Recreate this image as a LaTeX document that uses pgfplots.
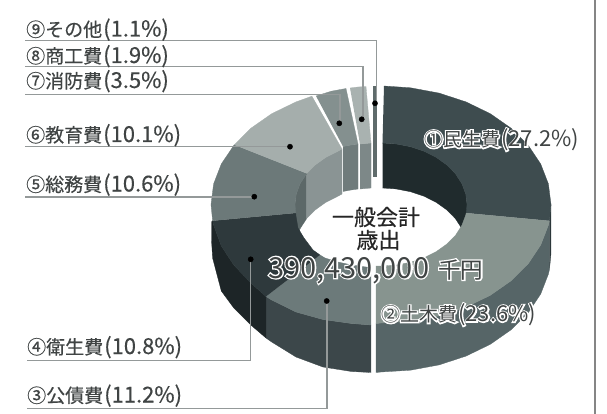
\documentclass[border=0pt]{standalone}
\usepackage{fontspec}
\setmainfont{Noto Sans CJK JP}
\newfontfamily\heavyfont{Noto Sans CJK JP}[FakeBold=0.35]
\usepackage{pgfplots}
\pgfplotsset{compat=1.18}

\definecolor{topA}{HTML}{3E4C4F}\definecolor{wallA}{HTML}{202B2D}\definecolor{sideA}{HTML}{2B373A}
\definecolor{topB}{HTML}{87948F}\definecolor{sideB}{HTML}{566567}
\definecolor{topC}{HTML}{6C7A7A}\definecolor{sideC}{HTML}{3C474A}
\definecolor{topD}{HTML}{2E393C}\definecolor{sideD}{HTML}{1D2527}
\definecolor{topE}{HTML}{6C7979}\definecolor{wallE}{HTML}{5C6868}
\definecolor{topF}{HTML}{A5AEAC}\definecolor{wallF}{HTML}{8A9494}
\definecolor{topG}{HTML}{84908F}\definecolor{wallG}{HTML}{6F7B7B}
\definecolor{topH}{HTML}{A9B2B0}\definecolor{wallH}{HTML}{7D8888}
\definecolor{topI}{HTML}{5F6B6B}
\definecolor{leader}{HTML}{949999}
\definecolor{ink}{HTML}{404444}

% one polygon of the ring, outlined in its own colour so that no seam shows
\newcommand{\face}[2]{\addplot[fill=#1,draw=#1,line width=0.3pt] coordinates {#2};}
% white outline behind a text: its glyphs stroked, not filled
\newcommand{\strokewhite}[1]{\special{pdf:code q 1 Tr 2.6 w 1 1 1 RG}#1\special{pdf:code Q}}
% caption body: item name, share
\newcommand{\labeltext}[2]{\fontsize{19}{20}\selectfont #1\hspace{1pt}\fontsize{22}{24}\selectfont (#2\%)}
% caption on white: x, baseline, item name, share
\newcommand{\itemlabel}[4]{\node[anchor=base west,inner sep=0pt,text=ink] at (axis cs:#1,#2)
  {\heavyfont\labeltext{#3}{#4}};}
% caption over the ring, on a white outline
\newcommand{\halolabel}[4]{%
  \node[anchor=base west,inner sep=0pt] at (axis cs:#1,#2) {\strokewhite{\labeltext{#3}{#4}}};
  \node[anchor=base west,inner sep=0pt,text=ink] at (axis cs:#1,#2) {\labeltext{#3}{#4}};}

\begin{document}
\begin{tikzpicture}
\path[use as bounding box] (0,0) rectangle (607pt,414pt);
\begin{axis}[
  at={(0,0)},anchor=south west,
  width=607pt,height=414pt,scale only axis,
  xmin=0,xmax=607,ymin=0,ymax=414,y dir=reverse,
  axis lines=none,clip=false]

% far inner wall of the hole
\face{wallA}{(382.5,143)(395.9,143.9)(410.4,146.7)(424,151.2)(436.3,157.4)(446.9,165)(455.5,173.8)(461.8,183.5)(465.7,193.8)(467,204.5)(467,249.5)(465.7,238.8)(461.8,228.5)(455.5,218.8)(446.9,210)(436.3,202.4)(424,196.2)(410.4,191.7)(395.9,188.9)(382.5,188)}
\face{wallE}{(295,204.5)(296.3,193.8)(300.2,183.5)(306.7,173.5)(306.7,218.5)(300.2,228.5)(296.3,238.8)(295,249.5)}
\face{wallF}{(306.7,173.5)(315.1,165)(325.7,157.4)(338,151.2)(342,149)(342,194)(338,196.2)(325.7,202.4)(315.1,210)(306.7,218.5)}
\face{wallG}{(343,146.5)(351,145)(358,144)(358,189)(351,190)(343,191.5)}
\face{wallH}{(360,144)(371,143)(371,188)(360,189)}
\face{topI}{(373,143)(376.5,143)(376.5,176)(373,176)}

% outer wall of the near half
\face{sideA}{(551,204.5)(549.4,220.8)(549.4,269.8)(551,253.5)}
\face{sideB}{(549.4,220.8)(548.4,225.1)(540.7,245)(528.2,263.8)(511.2,280.7)(490.3,295.3)(466,307.1)(439.1,315.9)(410.5,321.2)(381,323)(376,323.5)(376,372.5)(381,372)(410.5,370.2)(439.1,364.9)(466,356.1)(490.3,344.3)(511.2,329.7)(528.2,312.8)(540.7,294)(548.4,274.1)(549.4,269.8)}
\face{sideC}{(371,325)(351.5,323.5)(322.9,319.5)(296,312)(271.7,300)(266,296.5)(266,338)(271.7,342)(296,357)(322.9,367)(351.5,371.5)(371,372.5)}
\face{sideD}{(266,296.5)(250.8,283)(233.8,265)(221.3,246)(213.6,225.1)(212.6,220.8)(211.5,222)(211.5,240)(212.6,258)(221.3,291)(233.8,308)(250.8,325)(266,338)}

% top of the ring
\face{topA}{(384,86)(410.5,87.8)(439.1,93.1)(466,101.9)(490.3,113.7)(511.2,128.3)(528.2,145.3)(540.7,164)(548.4,183.9)(551,204.5)(549.4,220.8)(466.2,213)(467,204.5)(465.7,193.8)(461.8,183.5)(455.5,173.8)(446.9,165)(436.3,157.4)(424,151.2)(410.4,146.7)(395.9,143.9)(382.5,143)}
\face{topB}{(549.4,220.8)(548.4,225.1)(540.7,245)(528.2,263.8)(511.2,280.7)(490.3,295.3)(466,307.1)(439.1,315.9)(410.5,321.2)(381,323)(376,323.5)(376,266)(381,266)(395.9,265.1)(410.4,262.3)(424,257.8)(436.3,251.6)(446.9,244)(455.5,235.3)(461.8,225.5)(465.7,215.2)(466.2,213)}
\face{topC}{(371,325)(351.5,323.5)(322.9,319.5)(296,312)(271.7,300)(266,296.5)(320,255)(325,258)(338,262)(351.6,265)(366,267)(371,267)}
\face{topD}{(266,296.5)(250.8,283)(233.8,265)(221.3,246)(213.6,225.1)(212.6,220.8)(295.8,213)(296,216)(298,228)(304,238)(313,250)(320,255)}
\face{topE}{(212.6,220.8)(211,204.5)(213.6,183.9)(221.3,164)(234.2,144.8)(306.7,173.5)(300.2,183.5)(296.3,193.8)(295,204.5)(295.8,213)}
\face{topF}{(234.2,144.8)(250.8,128.3)(271.7,113.7)(296,101.9)(311.9,96.2)(342,149)(338,151.2)(325.7,157.4)(315.1,165)(306.7,173.5)}
\face{topG}{(316,96)(331.3,91.2)(346,88.5)(358,144)(351,145)(343,146.5)}
\face{topH}{(350,88)(358,87)(366,86.5)(371,143)(360,144)}
\face{topI}{(373,86)(376.5,86)(376.5,143)(373,143)}

% leader lines from the captions to the slices
\addplot[leader,line width=1.3pt] coordinates {(25,40.7)(376.7,40.7)(376.7,103)};
\addplot[leader,line width=1.3pt] coordinates {(25,66.7)(363,66.7)(363,119)};
\addplot[leader,line width=1.3pt] coordinates {(25,94.3)(340,94.3)(340,123)};
\addplot[leader,line width=1.3pt] coordinates {(25,146.7)(290,146.7)};
\addplot[leader,line width=1.3pt] coordinates {(25,197)(254,197)};
\addplot[leader,line width=1.3pt] coordinates {(27,360.5)(250.7,360.5)(250.7,259)};
\addplot[leader,line width=1.3pt] coordinates {(27,408.7)(327,408.7)(327,301)};
\addplot[only marks,mark=*,mark size=2.6pt,mark options={fill=black,draw=black}]
  coordinates {(375,103.3)(361.7,119.3)(339.3,123.3)(290,146.7)(254.3,196.7)(250.7,259.3)(326.7,301)};

% frame line on the right
\addplot[color=black!48,line width=1.4pt] coordinates {(595,0)(595,414)};

% captions
\itemlabel{26}{36.5}{⑨その他}{1.1}
\itemlabel{26}{63}{⑧商工費}{1.9}
\itemlabel{26}{88}{⑦消防費}{3.5}
\itemlabel{26}{142}{⑥教育費}{10.1}
\itemlabel{26}{191.5}{⑤総務費}{10.6}
\itemlabel{27}{354}{④衛生費}{10.8}
\itemlabel{27}{402.5}{③公債費}{11.2}
\halolabel{424}{146.5}{①民生費}{27.2}
\halolabel{381}{321.5}{②土木費}{23.6}

% centre of the ring
\node[text=black!85,inner sep=0pt] at (axis cs:376,217) {\heavyfont\fontsize{22}{24}\selectfont 一般会計};
\node[text=black!85,inner sep=0pt] at (axis cs:378.5,240) {\heavyfont\fontsize{22}{24}\selectfont 歳出};
\node[anchor=base west,inner sep=0pt] at (axis cs:268,278)
  {\strokewhite{\fontsize{29}{30}\selectfont 390,430,000}\hspace{9pt}\strokewhite{\fontsize{22.5}{24}\selectfont 千円}};
\node[anchor=base west,inner sep=0pt,text=ink] at (axis cs:268,278)
  {\fontsize{29}{30}\selectfont 390,430,000\hspace{9pt}\fontsize{22.5}{24}\selectfont 千円};
\end{axis}
\end{tikzpicture}
\end{document}
